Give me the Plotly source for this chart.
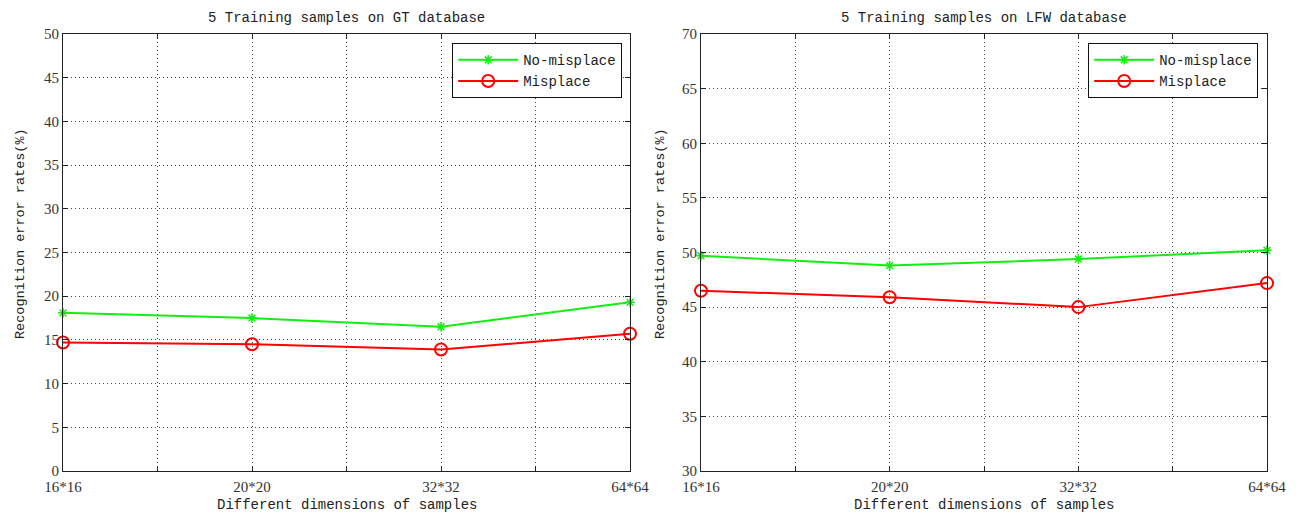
import numpy as np
import plotly.graph_objects as go

# ---------------- data ----------------
categories = ["16*16", "20*20", "32*32", "64*64"]
gt_no_misplace = [18.1, 17.5, 16.5, 19.3]
gt_misplace = [14.7, 14.5, 13.9, 15.7]
lfw_no_misplace = [49.7, 48.8, 49.4, 50.2]
lfw_misplace = [46.5, 45.9, 45.0, 47.2]
series_names = ["No-misplace", "Misplace"]
titles = ["5 Training samples on GT database", "5 Training samples on LFW database"]
x_title = "Different dimensions of samples"
y_title = "Recognition error rates(%)"
gt_yrange = [0, 50]
lfw_yrange = [30, 70]
y_step = 5

# ---------------- styling ----------------
PAGE_OFF = 8                      # default body margin of the page
W, H = 1306 - PAGE_OFF, 516 - PAGE_OFF
GREEN = "#11ee11"
RED = "#ff0000"
TXT = "Liberation Mono"
NUM = "Liberation Serif"

x_idx = list(range(len(categories)))
x_ticks = np.arange(0, len(categories) - 1 + 0.01, 0.5)
x_text = [categories[int(v)] if float(v).is_integer() else "" for v in x_ticks]

def px_x(p):
    return (p - PAGE_OFF) / W

def px_y(p):
    return 1 - (p - PAGE_OFF) / H

panels = [
    dict(dom=(63, 630), yr=gt_yrange, data=(gt_no_misplace, gt_misplace), legend="legend", lx=622, ytx=20),
    dict(dom=(701, 1267), yr=lfw_yrange, data=(lfw_no_misplace, lfw_misplace), legend="legend2", lx=1258, ytx=660),
]

fig = go.Figure()
top, bottom = 34, 471
layout = dict(width=W, height=H, margin=dict(l=0, r=0, t=0, b=0, autoexpand=False),
              plot_bgcolor="white", paper_bgcolor="white", annotations=[])

for i, p in enumerate(panels):
    sfx = "" if i == 0 else str(i + 1)
    xa, ya = "x" + sfx, "y" + sfx
    no_mis, mis = p["data"]
    fig.add_trace(go.Scatter(x=x_idx, y=no_mis, name=series_names[0], mode="lines+markers",
                             line=dict(color=GREEN, width=2),
                             marker=dict(symbol="asterisk-open", size=8, color=GREEN,
                                         line=dict(color=GREEN, width=1.5)),
                             xaxis=xa, yaxis=ya, legend=p["legend"], cliponaxis=False))
    fig.add_trace(go.Scatter(x=x_idx, y=mis, name=series_names[1], mode="lines+markers",
                             line=dict(color=RED, width=2),
                             marker=dict(symbol="circle-open", size=12, color=RED,
                                         line=dict(color=RED, width=2)),
                             xaxis=xa, yaxis=ya, legend=p["legend"], cliponaxis=False))
    common = dict(showline=True, linecolor="#222", linewidth=1.2, mirror="ticks",
                  ticks="inside", ticklen=5, tickcolor="#222", automargin=False,
                  showgrid=True, gridcolor="#444", griddash="1px,3px", gridwidth=1,
                  zeroline=False, tickfont=dict(family=NUM, size=15, color="#333"))
    layout["xaxis" + sfx] = dict(common, domain=[px_x(p["dom"][0]), px_x(p["dom"][1])],
                                 anchor=ya, range=[0, len(categories) - 1],
                                 tickmode="array", tickvals=list(x_ticks), ticktext=x_text,
                                 ticklabelstandoff=2)
    layout["yaxis" + sfx] = dict(common, domain=[px_y(bottom), px_y(top)], anchor=xa,
                                 range=p["yr"], dtick=y_step, tick0=p["yr"][0],
                                 ticklabelstandoff=0)
    cx = (px_x(p["dom"][0]) + px_x(p["dom"][1])) / 2
    layout["annotations"].append(dict(text=titles[i], xref="paper", yref="paper",
                                      x=cx, y=px_y(18),
                                      xanchor="center", yanchor="middle", showarrow=False,
                                      font=dict(family=TXT, size=14, color="#222")))
    layout["annotations"].append(dict(text=x_title, xref="paper", yref="paper",
                                      x=cx, y=px_y(505),
                                      xanchor="center", yanchor="middle", showarrow=False,
                                      font=dict(family=TXT, size=14, color="#222")))
    layout["annotations"].append(dict(text=y_title, xref="paper", yref="paper",
                                      x=px_x(p["ytx"]), y=px_y(234),
                                      xanchor="center", yanchor="middle", showarrow=False,
                                      textangle=-90,
                                      font=dict(family=TXT, size=13.5, color="#222")))
    layout[p["legend"]] = dict(x=px_x(p["lx"]), y=px_y(43), xanchor="right", yanchor="top",
                               bgcolor="white", bordercolor="#111", borderwidth=1.2,
                               font=dict(family=TXT, size=14, color="#222"),
                               itemwidth=60, tracegroupgap=0)

fig.update_layout(**layout)
fig.write_html("out.html")
